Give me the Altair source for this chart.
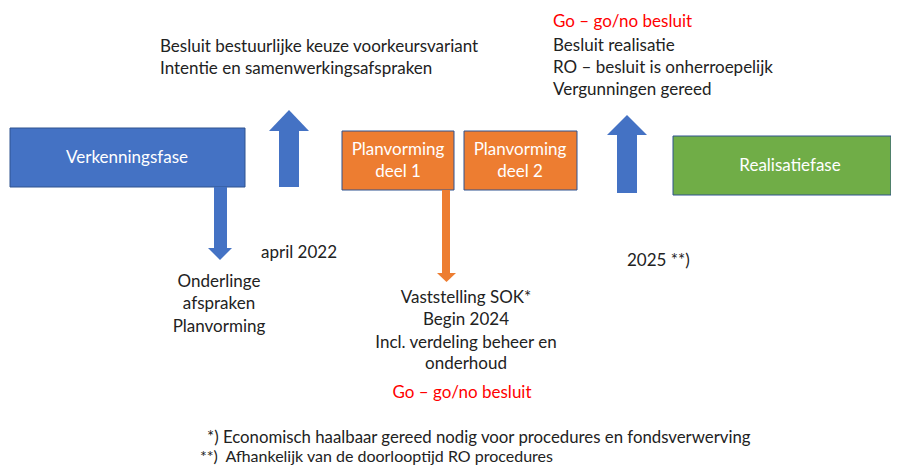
import altair as alt
import pandas as pd

# ---- boxes (phases) ----
box_name = ["Verkenningsfase", "Planvorming deel 1", "Planvorming deel 2", "Realisatiefase"]
box_x0 = [10, 342, 464, 673]
box_x1 = [245, 454, 577, 891]
box_y0 = [128, 131, 131, 136]
box_y1 = [187, 190, 190, 195]
box_color = ["#4472C4", "#ED7D31", "#ED7D31", "#70AD47"]

# ---- arrows: shaft + head ----
arrow_id = ["a1", "a2", "a3", "a4"]
arrow_color = ["#4472C4", "#4472C4", "#ED7D31", "#4472C4"]
shaft_x0 = [279, 214, 442, 617]
shaft_x1 = [299, 227, 450, 637]
shaft_y0 = [131, 187, 190, 135]
shaft_y1 = [187, 248, 273, 193]
head_x0 = [269, 208, 437, 607]
head_x1 = [309, 232, 456, 647]
head_base = [131, 248, 273, 135]
head_tip = [110, 260, 282, 115]

# ---- texts ----
txt = [
    "Besluit bestuurlijke keuze voorkeursvariant",
    "Intentie en samenwerkingsafspraken",
    "Go \u2013 go/no besluit",
    "Besluit realisatie",
    "RO \u2013 besluit is onherroepelijk",
    "Vergunningen gereed",
    "april 2022",
    "2025 **)",
    "Onderlinge", "afspraken", "Planvorming",
    "Vaststelling SOK*", "Begin 2024", "Incl. verdeling beheer en", "onderhoud",
    "Go \u2013 go/no besluit",
]
txt_x = [160, 160, 553, 553, 553, 553, 261, 627, 219, 219, 219, 466, 466, 466, 466, 462]
txt_y = [47, 69, 22, 46, 68, 90, 253, 261, 282, 304, 327, 298, 320, 343, 364, 393]
txt_align = ["left"] * 8 + ["center"] * 8
txt_color = ["#222222", "#222222", "#FF0000", "#222222", "#222222", "#222222", "#222222", "#222222",
             "#222222", "#222222", "#222222", "#222222", "#222222", "#222222", "#222222", "#FF0000"]

foot_txt = [
    "*) Economisch haalbaar gereed nodig voor procedures en fondsverwerving",
    "**)\u00a0 Afhankelijk van de doorlooptijd RO procedures",
]
foot_x = [207, 200]
foot_y = [438, 457]
foot_size = [16.8, 16]

box_txt = ["Verkenningsfase", "Planvorming", "deel 1", "Planvorming", "deel 2", "Realisatiefase"]
box_txt_x = [127, 398, 398, 520, 520, 790]
box_txt_y = [158, 150, 172, 150, 172, 166]

FONT = "Lato"

boxes = pd.DataFrame(dict(name=box_name, x0=box_x0, x1=box_x1, y0=box_y0, y1=box_y1, c=box_color))
shafts = pd.DataFrame(dict(id=arrow_id, x0=shaft_x0, x1=shaft_x1, y0=shaft_y0, y1=shaft_y1, c=arrow_color))

# arrow heads as custom triangle symbols derived from the head geometry
head_rows = []
for i in range(len(arrow_id)):
    w = head_x1[i] - head_x0[i]
    r = abs(head_base[i] - head_tip[i]) / w  # half-height in unit symbol coords (side = 2)
    if head_tip[i] < head_base[i]:   # pointing up
        path = f"M-1,{r:.4f}L0,{-r:.4f}L1,{r:.4f}Z"
    else:                            # pointing down
        path = f"M-1,{-r:.4f}L0,{r:.4f}L1,{-r:.4f}Z"
    head_rows.append(dict(
        id=arrow_id[i],
        x=(head_x0[i] + head_x1[i]) / 2,
        y=(head_base[i] + head_tip[i]) / 2,
        sz=w * w,
        s=path,
        c=arrow_color[i],
    ))
heads = pd.DataFrame(head_rows)
texts = pd.DataFrame(dict(t=txt, x=txt_x, y=txt_y, a=txt_align, c=txt_color))
foots = pd.DataFrame(dict(t=foot_txt, x=foot_x, y=foot_y, s=foot_size))
btexts = pd.DataFrame(dict(t=box_txt, x=box_txt_x, y=box_txt_y))

xs = alt.Scale(domain=[8, 891], nice=False, zero=False)
ys = alt.Scale(domain=[467, 8], nice=False, zero=False)


def X(f):
    return alt.X(f, type="quantitative", scale=xs, axis=None)


def Y(f):
    return alt.Y(f, type="quantitative", scale=ys, axis=None)


box_layer = alt.Chart(boxes).mark_rect(stroke="#2F528F", strokeWidth=1).encode(
    x=X("x0"), x2="x1", y=Y("y0"), y2="y1", color=alt.Color("c:N", scale=None)
)
shaft_layer = alt.Chart(shafts).mark_rect().encode(
    x=X("x0"), x2="x1", y=Y("y0"), y2="y1", color=alt.Color("c:N", scale=None)
)
head_layer = alt.Chart(heads).mark_point(filled=True, opacity=1, strokeWidth=0).encode(
    x=X("x"), y=Y("y"),
    shape=alt.Shape("s:N", scale=None),
    size=alt.Size("sz:Q", scale=None),
    color=alt.Color("c:N", scale=None),
)


def text_layer(df, size, align):
    return alt.Chart(df).mark_text(font=FONT, fontSize=size, align=align, baseline="middle").encode(
        x=X("x"), y=Y("y"), text="t:N", color=alt.Color("c:N", scale=None)
    )


main_left = text_layer(texts[texts.a == "left"], 17, "left")
main_center = text_layer(texts[texts.a == "center"], 17, "center")
foot = alt.Chart(foots).mark_text(font=FONT, align="left", baseline="middle", color="#222222").encode(
    x=X("x"), y=Y("y"), text="t:N", size=alt.Size("s:Q", scale=None)
)
box_text_layer = alt.Chart(btexts).mark_text(
    font=FONT, fontSize=17, align="center", baseline="middle", color="white"
).encode(x=X("x"), y=Y("y"), text="t:N")

chart = alt.layer(box_layer, shaft_layer, head_layer, main_left, main_center, foot, box_text_layer).properties(
    width=883, height=459, padding=0,
    autosize=alt.AutoSizeParams(type="none"),
).configure_view(stroke=None)

chart.save("out.html", embed_options={"renderer": "svg", "actions": False})
